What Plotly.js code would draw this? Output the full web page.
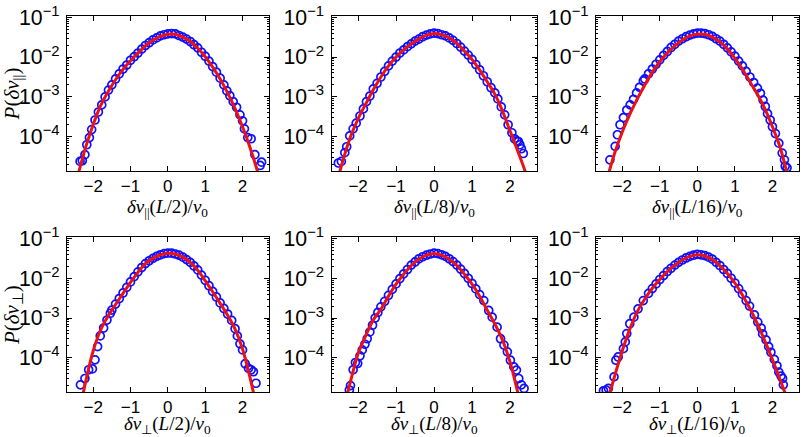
<!DOCTYPE html>
<html>
<head>
<meta charset="utf-8">
<script src="https://cdn.plot.ly/plotly-3.0.1.min.js"></script>
<style>html,body{margin:0;padding:0;background:#fff;}#chart{width:802px;height:437px;}</style>
</head>
<body>
<div id="chart"></div>
<script>
// ---- data ----
const fitX = [-2.6,-2.4,-2.2,-2.0,-1.8,-1.6,-1.4,-1.2,-1.0,-0.8,-0.6,-0.4,-0.2,0,0.2,0.4,0.6,0.8,1.0,1.2,1.4,1.6,1.8,2.0,2.2,2.4,2.6];

const fit1 = [2.5e-6,1.15e-5,5.5e-5,2.0e-4,6.0e-4,1.35e-3,2.69e-3,4.9e-3,8.1e-3,1.26e-2,1.9e-2,2.63e-2,3.31e-2,3.72e-2,3.72e-2,3.16e-2,2.45e-2,1.66e-2,1.02e-2,5.6e-3,2.8e-3,1.26e-3,5.1e-4,1.78e-4,5.4e-5,1.35e-5,2.5e-6];
const fit2 = [5.0e-6,2.51e-5,1.0e-4,2.82e-4,6.6e-4,1.51e-3,3.16e-3,6.0e-3,1.0e-2,1.51e-2,2.14e-2,2.82e-2,3.55e-2,3.89e-2,3.63e-2,3.02e-2,2.19e-2,1.41e-2,8.7e-3,4.79e-3,2.4e-3,1.17e-3,4.47e-4,1.41e-4,4.47e-5,1.35e-5,3.16e-6];
const fit3 = [1.58e-6,8.9e-6,3.98e-5,1.32e-4,3.63e-4,8.9e-4,2.0e-3,4.17e-3,7.6e-3,1.26e-2,1.91e-2,2.69e-2,3.39e-2,3.72e-2,3.72e-2,3.16e-2,2.4e-2,1.58e-2,9.3e-3,5.0e-3,2.4e-3,1.17e-3,5.0e-4,1.78e-4,5.6e-5,1.12e-5,2.0e-6];
const fit4 = [4.0e-7,3.16e-6,2.51e-5,1.48e-4,5.0e-4,1.12e-3,2.19e-3,4.17e-3,7.9e-3,1.41e-2,2.34e-2,3.16e-2,3.89e-2,4.27e-2,4.07e-2,3.39e-2,2.51e-2,1.58e-2,8.7e-3,4.57e-3,2.34e-3,1.17e-3,5.25e-4,1.66e-4,3.16e-5,4.47e-6,5.0e-7];
const fit5 = [5.0e-7,3.98e-6,2.51e-5,1.26e-4,3.55e-4,8.9e-4,1.66e-3,3.55e-3,7.1e-3,1.26e-2,2.09e-2,3.02e-2,3.8e-2,4.17e-2,3.8e-2,3.02e-2,2.09e-2,1.26e-2,7.1e-3,3.55e-3,1.58e-3,7.1e-4,2.82e-4,7.9e-5,1.41e-5,2.51e-6,4.0e-7];
const fit6 = [1.26e-6,7.1e-6,3.55e-5,1.51e-4,5.25e-4,1.45e-3,3.02e-3,5.6e-3,9.3e-3,1.48e-2,2.14e-2,2.88e-2,3.55e-2,3.89e-2,3.63e-2,2.95e-2,2.09e-2,1.32e-2,7.6e-3,3.8e-3,1.74e-3,7.1e-4,2.63e-4,9.1e-5,2.88e-5,8.7e-6,2.0e-6];

const dataX1 = [-2.35,-2.29,-2.22,-2.17,-2.1,-2.04,-1.95,-1.86,-1.77,-1.68,-1.59,-1.5,-1.4,-1.3,-1.2,-1.1,-1.0,-0.9,-0.8,-0.7,-0.6,-0.5,-0.4,-0.3,-0.2,-0.1,0,0.1,0.2,0.3,0.4,0.5,0.6,0.7,0.8,0.9,1.0,1.1,1.2,1.3,1.4,1.5,1.58,1.66,1.75,1.84,1.93,2.0,2.05,2.14,2.23,2.33,2.47,2.51];
const dataP1 = [2.4e-5,2.5e-5,3.55e-5,6.3e-5,9.5e-5,1.51e-4,2.63e-4,4.17e-4,6.3e-4,1.0e-3,1.48e-3,2.0e-3,2.82e-3,3.8e-3,5.0e-3,6.3e-3,8.3e-3,1.02e-2,1.26e-2,1.58e-2,1.95e-2,2.29e-2,2.69e-2,3.02e-2,3.39e-2,3.63e-2,3.8e-2,3.89e-2,3.8e-2,3.47e-2,3.16e-2,2.82e-2,2.45e-2,2.04e-2,1.7e-2,1.32e-2,1.05e-2,7.9e-3,5.75e-3,4.17e-3,2.95e-3,2.0e-3,1.41e-3,1.07e-3,7.6e-4,5.5e-4,3.55e-4,2.51e-4,1.58e-4,9.5e-5,8.9e-5,3.55e-5,1.9e-5,2.3e-5];

const dataX2 = [-2.52,-2.44,-2.35,-2.3,-2.22,-2.13,-2.05,-1.95,-1.86,-1.78,-1.69,-1.6,-1.5,-1.4,-1.3,-1.2,-1.1,-1.0,-0.9,-0.8,-0.7,-0.6,-0.5,-0.4,-0.3,-0.2,-0.1,0,0.1,0.2,0.3,0.4,0.5,0.6,0.7,0.8,0.9,1.0,1.1,1.2,1.3,1.4,1.5,1.6,1.68,1.77,1.86,1.95,2.05,2.12,2.18,2.22,2.26,2.3,2.35];
const dataP2 = [2.19e-5,2.4e-5,3.98e-5,5.6e-5,1.05e-4,1.58e-4,2.19e-4,3.31e-4,5.0e-4,7.6e-4,1.05e-3,1.58e-3,2.19e-3,3.16e-3,4.37e-3,6.0e-3,7.9e-3,1.0e-2,1.26e-2,1.51e-2,1.82e-2,2.14e-2,2.51e-2,2.82e-2,3.24e-2,3.55e-2,3.8e-2,3.98e-2,3.89e-2,3.63e-2,3.39e-2,3.02e-2,2.63e-2,2.19e-2,1.78e-2,1.41e-2,1.12e-2,8.7e-3,6.5e-3,4.79e-3,3.39e-3,2.4e-3,1.7e-3,1.26e-3,8.9e-4,5.6e-4,3.55e-4,2.0e-4,1.26e-4,8.9e-5,7.9e-5,7.6e-5,6.3e-5,5.0e-5,3.8e-5];

const dataX3 = [-2.33,-2.19,-2.13,-2.06,-1.97,-1.88,-1.79,-1.7,-1.62,-1.54,-1.44,-1.4,-1.3,-1.2,-1.1,-1.0,-0.9,-0.8,-0.7,-0.6,-0.5,-0.4,-0.3,-0.2,-0.1,0,0.1,0.2,0.3,0.4,0.5,0.6,0.7,0.8,0.9,1.0,1.1,1.2,1.3,1.4,1.5,1.6,1.68,1.75,1.81,1.87,1.94,2.0,2.08,2.17,2.26,2.32,2.34,2.39];
const dataP3 = [2.63e-5,5.75e-5,1.12e-4,2.0e-4,3.02e-4,4.68e-4,6.3e-4,8.7e-4,1.26e-3,1.74e-3,2.51e-3,2.82e-3,3.8e-3,5.0e-3,6.6e-3,8.5e-3,1.1e-2,1.38e-2,1.74e-2,2.09e-2,2.51e-2,2.88e-2,3.24e-2,3.55e-2,3.8e-2,3.98e-2,3.98e-2,3.89e-2,3.63e-2,3.31e-2,2.88e-2,2.51e-2,2.09e-2,1.7e-2,1.35e-2,1.05e-2,7.9e-3,6.0e-3,4.37e-3,3.16e-3,2.29e-3,1.66e-3,1.23e-3,8.3e-4,5.75e-4,3.8e-4,2.63e-4,1.78e-4,1.2e-4,6.9e-5,3.89e-5,2.63e-5,1.82e-5,1.66e-5];

const dataX4 = [-2.34,-2.22,-2.12,-2.02,-1.95,-1.88,-1.81,-1.72,-1.63,-1.54,-1.5,-1.4,-1.3,-1.2,-1.1,-1.0,-0.9,-0.8,-0.7,-0.6,-0.5,-0.4,-0.3,-0.2,-0.1,0,0.1,0.2,0.3,0.4,0.5,0.6,0.7,0.8,0.9,1.0,1.1,1.2,1.3,1.4,1.5,1.6,1.71,1.8,1.86,1.93,2.0,2.07,2.16,2.23,2.29,2.36];
const dataP4 = [2.09e-5,3.02e-5,5.0e-5,5.25e-5,8.9e-5,1.91e-4,3.55e-4,5.6e-4,8.9e-4,1.32e-3,1.58e-3,2.24e-3,3.09e-3,4.27e-3,5.9e-3,8.1e-3,1.1e-2,1.45e-2,1.86e-2,2.34e-2,2.75e-2,3.16e-2,3.55e-2,3.89e-2,4.17e-2,4.27e-2,4.27e-2,4.07e-2,3.8e-2,3.39e-2,2.95e-2,2.51e-2,2.04e-2,1.62e-2,1.2e-2,8.9e-3,6.5e-3,4.68e-3,3.39e-3,2.4e-3,1.74e-3,1.26e-3,8.7e-4,5.4e-4,3.55e-4,2.24e-4,1.58e-4,7.1e-5,5.4e-5,5.0e-5,4.47e-5,2.29e-5];

const dataX5 = [-2.23,-2.2,-2.13,-2.07,-2.01,-1.95,-1.89,-1.82,-1.76,-1.69,-1.62,-1.55,-1.48,-1.4,-1.3,-1.2,-1.1,-1.0,-0.9,-0.8,-0.7,-0.6,-0.5,-0.4,-0.3,-0.2,-0.1,0,0.1,0.2,0.3,0.4,0.5,0.6,0.7,0.8,0.9,1.0,1.1,1.2,1.31,1.44,1.53,1.66,1.75,1.84,1.93,2.01,2.1,2.17,2.23,2.3,2.37];
const dataP5 = [1.55e-5,2.0e-5,5.0e-5,7.6e-5,7.2e-5,1.12e-4,1.58e-4,2.19e-4,3.02e-4,4.47e-4,6.6e-4,1.0e-3,1.38e-3,1.91e-3,2.63e-3,3.72e-3,5.25e-3,7.2e-3,9.8e-3,1.29e-2,1.66e-2,2.14e-2,2.57e-2,3.09e-2,3.47e-2,3.8e-2,4.07e-2,4.27e-2,4.17e-2,3.89e-2,3.55e-2,3.09e-2,2.63e-2,2.14e-2,1.7e-2,1.32e-2,1.0e-2,7.4e-3,5.4e-3,3.89e-3,2.75e-3,1.55e-3,1.05e-3,5.9e-4,3.02e-4,2.09e-4,1.41e-4,8.7e-5,5.9e-5,4.9e-5,3.02e-5,2.09e-5,1.7e-5];

const dataX6 = [-2.5,-2.43,-2.37,-2.22,-2.17,-2.11,-1.97,-1.92,-1.88,-1.8,-1.69,-1.58,-1.44,-1.3,-1.2,-1.1,-1.0,-0.9,-0.8,-0.7,-0.6,-0.5,-0.4,-0.3,-0.2,-0.1,0,0.1,0.2,0.3,0.4,0.5,0.6,0.7,0.8,0.9,1.0,1.1,1.2,1.3,1.39,1.52,1.61,1.7,1.74,1.83,1.9,1.96,2.05,2.12,2.17,2.23,2.27,2.29];
const dataP6 = [1.48e-5,1.55e-5,1.7e-5,3.31e-5,8.7e-5,1.05e-4,1.7e-4,2.51e-4,4.07e-4,7.2e-4,1.05e-3,1.7e-3,2.75e-3,4.17e-3,5.5e-3,7.2e-3,9.3e-3,1.17e-2,1.48e-2,1.78e-2,2.14e-2,2.51e-2,2.88e-2,3.24e-2,3.55e-2,3.8e-2,3.98e-2,3.89e-2,3.72e-2,3.39e-2,3.02e-2,2.51e-2,2.09e-2,1.66e-2,1.32e-2,1.0e-2,7.6e-3,5.5e-3,3.98e-3,2.75e-3,2.0e-3,1.2e-3,7.9e-4,5.6e-4,3.98e-4,2.82e-4,1.91e-4,1.38e-4,9.1e-5,6.3e-5,4.37e-5,3.47e-5,3.02e-5,2.09e-5];

const xTickVals = [-2,-1,0,1,2];
const PAR = '||';
const PERP = '⊥';
const xTitles = [
  '<i>δv</i><sub>' + PAR + '</sub>(<i>L</i>/2)/<i>v</i><sub>0</sub>',
  '<i>δv</i><sub>' + PAR + '</sub>(<i>L</i>/8)/<i>v</i><sub>0</sub>',
  '<i>δv</i><sub>' + PAR + '</sub>(<i>L</i>/16)/<i>v</i><sub>0</sub>',
  '<i>δv</i><sub>' + PERP + '</sub>(<i>L</i>/2)/<i>v</i><sub>0</sub>',
  '<i>δv</i><sub>' + PERP + '</sub>(<i>L</i>/8)/<i>v</i><sub>0</sub>',
  '<i>δv</i><sub>' + PERP + '</sub>(<i>L</i>/16)/<i>v</i><sub>0</sub>'
];
const yTitles = ['<i>P</i>(<i>δv</i><sub>' + PAR + '</sub>)', '<i>P</i>(<i>δv</i><sub>' + PERP + '</sub>)'];

// ---- layout geometry ----
const W = 802, H = 437;
const colPx = [[67, 268.7], [331.5, 536.6], [596, 798.7]];
const rowPx = [[16, 171], [237.3, 392]];
const xTitleY = [207.5, 425];

const fits = [fit1, fit2, fit3, fit4, fit5, fit6];
const dxs = [dataX1, dataX2, dataX3, dataX4, dataX5, dataX6];
const dps = [dataP1, dataP2, dataP3, dataP4, dataP5, dataP6];

const traces = [];
const layout = {
  width: W, height: H,
  margin: {l: 0, r: 0, t: 0, b: 0},
  paper_bgcolor: '#fff', plot_bgcolor: '#fff',
  showlegend: false,
  annotations: []
};
const tickFont = {family: 'Liberation Sans, Arial, sans-serif', size: 17, color: '#000'};
const titleFont = {family: 'Liberation Serif, Times New Roman, serif', size: 19, color: '#000'};

for (let i = 0; i < 6; i++) {
  const r = Math.floor(i / 3), c = i % 3;
  const sfx = i === 0 ? '' : String(i + 1);
  const xa = 'x' + sfx, ya = 'y' + sfx;
  traces.push({
    x: dxs[i], y: dps[i], xaxis: xa, yaxis: ya, type: 'scatter', mode: 'markers',
    marker: {symbol: 'circle-open', size: 8, color: '#1010ff', line: {width: 1.7, color: '#1010ff'}}
  });
  traces.push({
    x: fitX, y: fits[i], xaxis: xa, yaxis: ya, type: 'scatter', mode: 'lines',
    line: {color: '#ee1111', width: 3, shape: 'spline', smoothing: 1}
  });
  const xd = [colPx[c][0] / W, colPx[c][1] / W];
  const yd = [1 - rowPx[r][1] / H, 1 - rowPx[r][0] / H];
  layout['xaxis' + sfx] = {
    domain: xd, anchor: ya, range: [-2.7, 2.7], tickvals: xTickVals,
    ticks: 'inside', ticklen: 5, tickwidth: 1, tickcolor: '#000',
    showline: true, linecolor: '#000', linewidth: 1, mirror: 'ticks',
    showgrid: false, zeroline: false, tickfont: tickFont, ticklabelstandoff: 0
  };
  const yax = {
    domain: yd, anchor: xa, type: 'log', range: [-4.86, -0.97], dtick: 1,
    exponentformat: 'power', showexponent: 'all',
    ticks: 'inside', ticklen: 5, tickwidth: 1, tickcolor: '#000',
    minor: {ticks: 'inside', ticklen: 2, tickcolor: '#000', showgrid: false},
    showline: true, linecolor: '#000', linewidth: 1, mirror: 'ticks',
    showgrid: false, zeroline: false, tickfont: tickFont, ticklabelstandoff: 3
  };
  if (c === 0) {
    yax.title = {text: yTitles[r], font: {family: 'Liberation Serif, Times New Roman, serif', size: 21, color: '#000'}, standoff: 2};
    yax.automargin = false;
  }
  layout['yaxis' + sfx] = yax;
  layout.annotations.push({
    xref: 'paper', yref: 'paper', x: (colPx[c][0] + colPx[c][1]) / 2 / W, y: 1 - xTitleY[r] / H,
    xanchor: 'center', yanchor: 'middle', showarrow: false, text: xTitles[i], font: titleFont
  });
}

Plotly.newPlot('chart', traces, layout, {staticPlot: true, displayModeBar: false});
</script>
</body>
</html>
